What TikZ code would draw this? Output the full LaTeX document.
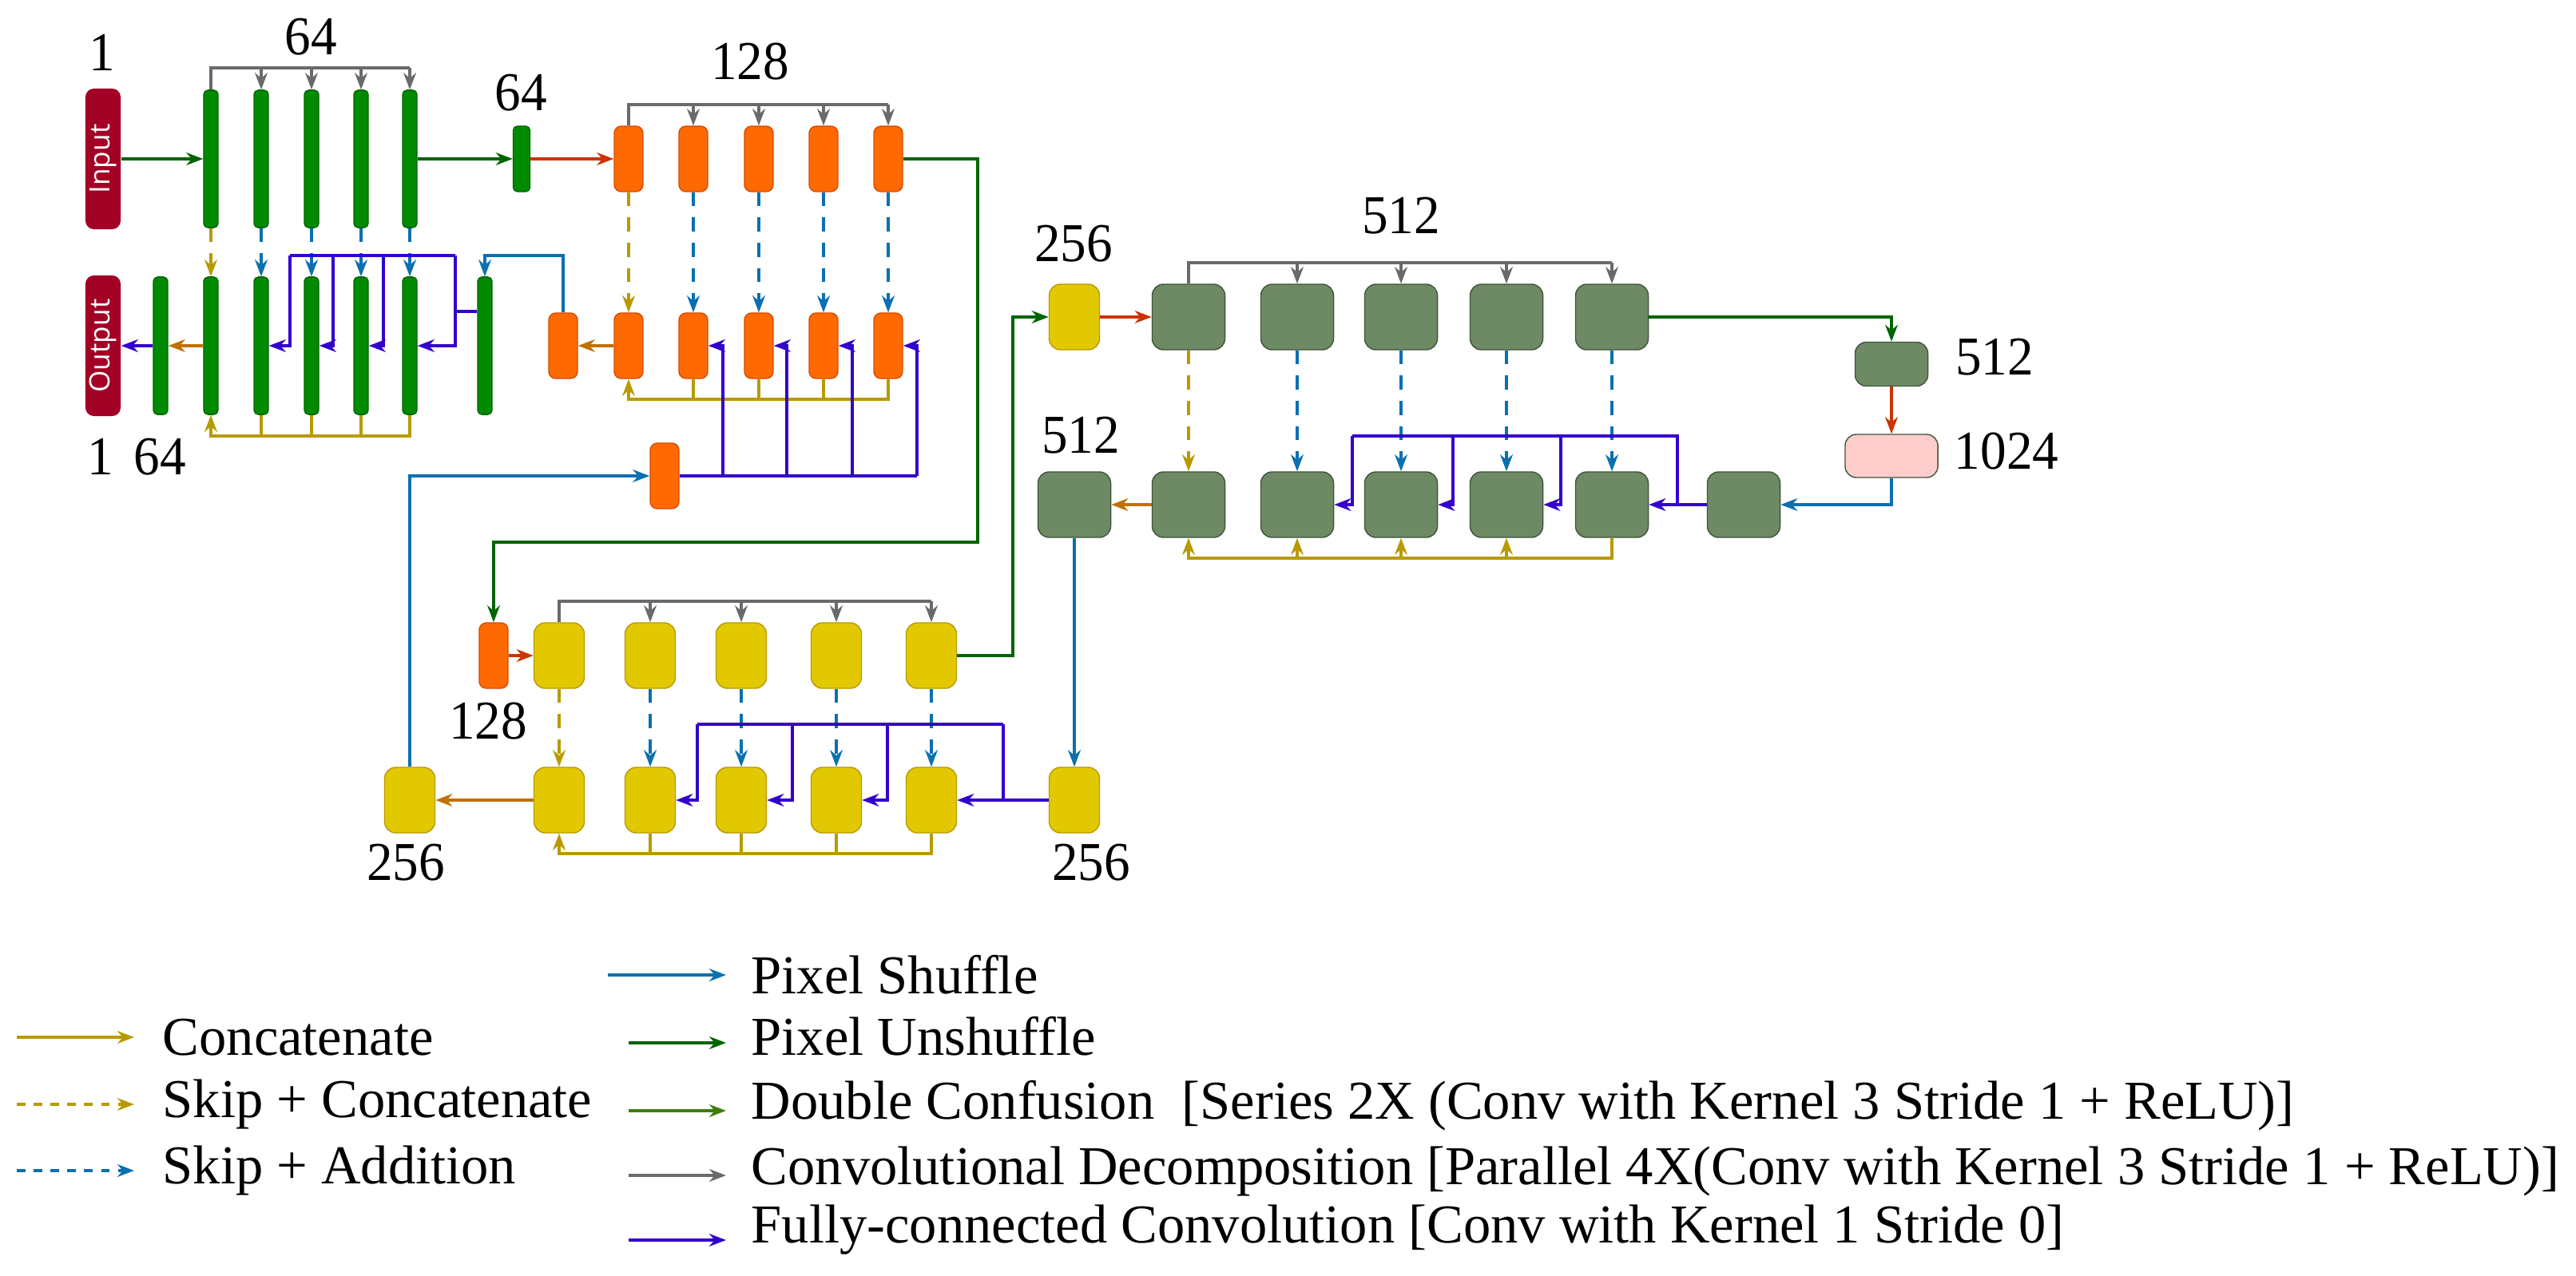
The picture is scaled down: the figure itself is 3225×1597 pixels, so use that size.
\documentclass[tikz,border=0pt]{standalone}
\usepackage{fontspec}
\setmainfont{Liberation Serif}
\newfontfamily\labfont{Liberation Serif}[FakeStretch=0.95]
\newfontfamily\iosans{Open Sans}
\usetikzlibrary{arrows.meta}
\definecolor{barG}{HTML}{008A00}
\definecolor{dkG}{HTML}{006400}
\definecolor{dcG}{HTML}{3C7F0A}
\definecolor{orF}{HTML}{FF6A00}
\definecolor{orD}{HTML}{D84A00}
\definecolor{redA}{HTML}{CC3300}
\definecolor{yeF}{HTML}{E2C800}
\definecolor{yeD}{HTML}{B89A00}
\definecolor{ggF}{HTML}{6E8A64}
\definecolor{ggD}{HTML}{3F553A}
\definecolor{pkF}{HTML}{FFCCCC}
\definecolor{ioF}{HTML}{A30026}
\definecolor{catC}{HTML}{B89A00}
\definecolor{catO}{HTML}{C07000}
\definecolor{psB}{HTML}{0A70B0}
\definecolor{fcP}{HTML}{3300CC}
\definecolor{cvG}{HTML}{6A6A6A}
\begin{document}
\begin{tikzpicture}[x=0.01cm,y=-0.01cm,
  tip/.style={-{Stealth[length=6pt,width=4.5pt]}},
  ln/.style={line width=0.9pt},
  conv/.style={ln,cvG},
  skipc/.style={ln,catC,dash pattern=on 5pt off 4pt},
  skipa/.style={ln,psB,dash pattern=on 5pt off 4pt},
  cat/.style={ln,catC},
  cato/.style={ln,catO},
  fc/.style={line width=1.1pt,fcP},
  ps/.style={ln,psB},
  pu/.style={ln,dkG},
  rd/.style={ln,redA},
  gbar/.style={draw=dkG,fill=barG,rounded corners=1.5pt,minimum width=0.18cm,minimum height=1.72cm,inner sep=0},
  sbar/.style={draw=dkG,fill=barG,rounded corners=1.5pt,minimum width=0.21cm,minimum height=0.82cm,inner sep=0},
  obox/.style={draw=orD,fill=orF,rounded corners=2.5pt,minimum width=0.36cm,minimum height=0.82cm,inner sep=0},
  ybox/.style={draw=yeD,fill=yeF,rounded corners=4pt,minimum width=0.63cm,minimum height=0.82cm,inner sep=0},
  ggbox/.style={draw=ggD,fill=ggF,rounded corners=4pt,minimum width=0.91cm,minimum height=0.82cm,inner sep=0},
  iobox/.style={fill=ioF,rounded corners=3pt,minimum width=0.44cm,minimum height=1.76cm,inner sep=0,text=white,font=\iosans\fontsize{10}{12}\selectfont},
  lab/.style={font=\labfont\fontsize{19.5}{22}\selectfont,inner sep=0},
  leg/.style={font=\fontsize{19.5}{22}\selectfont,inner sep=0,anchor=west}]
\useasboundingbox (0,0) rectangle (3225,1597);
% ---------- green level ----------
\node[iobox] (in) at (129,199) {\rotatebox{90}{Input}};
\node[iobox] (out) at (129,433) {\rotatebox{90}{Output}};
\foreach \i/\x in {1/264,2/327,3/390,4/452,5/513}{
  \node[gbar] (g\i) at (\x,199) {};
  \node[gbar] (h\i) at (\x,433) {};}
\node[gbar] (h0) at (201,433) {};
\node[gbar] (h6) at (607,433) {};
\node[sbar] (s64) at (653,199) {};
% orange level
\foreach \i/\x in {1/787,2/868,3/950,4/1031,5/1112}{
  \node[obox] (o\i) at (\x,199) {};
  \node[obox] (p\i) at (\x,433) {};}
\node[obox] (p0) at (705,433) {};
\node[obox] (q) at (832,596) {};
% yellow level
\node[obox] (o128) at (618,821) {};
\foreach \i/\x in {1/700,2/814,3/928,4/1047,5/1166}{
  \node[ybox] (y\i) at (\x,821) {};
  \node[ybox] (z\i) at (\x,1002) {};}
\node[ybox] (z0) at (513,1002) {};
\node[ybox] (z6) at (1345,1002) {};
% gray-green level
\node[ybox] (Y0) at (1345,397) {};
\foreach \i/\x in {1/1488,2/1624,3/1754,4/1886,5/2018}{
  \node[ggbox] (G\i) at (\x,397) {};
  \node[ggbox] (H\i) at (\x,632) {};}
\node[ggbox] (H0) at (1345,632) {};
\node[ggbox] (H6) at (2183,632) {};
\node[ggbox,minimum height=0.55cm] (R) at (2368,456) {};
\node[draw=ggD,fill=pkF,rounded corners=4pt,minimum width=1.16cm,minimum height=0.54cm,inner sep=0] (pk) at (2368,571) {};
% ---------- labels ----------
\node[lab] (l1) at (128,66) {1};
\node[lab] (l2) at (389,46) {64};
\node[lab] (l3) at (652,116) {64};
\node[lab] (l4) at (939,77) {128};
\node[lab] (l5) at (126,572) {1};
\node[lab] (l6) at (200,572) {64};
\node[lab] (l7) at (1344,305) {256};
\node[lab] (l8) at (1754,270) {512};
\node[lab] (l9) at (2497,447) {512};
\node[lab] (l10) at (2512,565) {1024};
\node[lab] (l11) at (1353,545) {512};
\node[lab] (l12) at (611,903) {128};
\node[lab] (l13) at (508,1080) {256};
\node[lab] (l14) at (1366,1080) {256};
% ---------- green connections ----------
\draw[pu,tip] (in.east) -- (g1.west);
\draw[pu,tip] (g5.east) -- (s64.west);
\draw[rd,tip] (s64.east) -- (o1.west);
\draw[conv] (g1.north) -- (g1.north|-0,85) -- (g5.north|-0,85);
\foreach \i in {2,...,5}{\draw[conv,tip] (g\i.north|-0,85) -- (g\i.north);}
\draw[skipc,tip] (g1.south) -- (h1.north);
\foreach \i in {2,...,5}{\draw[skipa,tip] (g\i.south) -- (h\i.north);}
\draw[cat,tip] (h5.south) -- (h5.south|-0,546) -- (h1.south|-0,546) -- (h1.south);
\foreach \i in {2,3,4}{\draw[cat] (h\i.south) -- (h\i.south|-0,546);}
\draw[fc] (h6.west|-0,390) -- (570,390);
\draw[fc] (570,320) -- (363,320);
\draw[fc,tip] (363,320) -- (363,433) -- (h2.east);
\draw[fc,tip] (417,320) -- (417,433) -- (h3.east);
\draw[fc,tip] (480,320) -- (480,433) -- (h4.east);
\draw[fc,tip] (570,320) -- (570,433) -- (h5.east);
\draw[ps,tip] (p0.north) -- (p0.north|-0,320) -| (h6.north);
\draw[cato,tip] (h1.west) -- (h0.east);
\draw[fc,tip] (h0.west) -- (out.east);
% ---------- orange connections ----------
\draw[conv] (o1.north) -- (o1.north|-0,131) -- (o5.north|-0,131);
\foreach \i in {2,...,5}{\draw[conv,tip] (o\i.north|-0,131) -- (o\i.north);}
\draw[skipc,tip] (o1.south) -- (p1.north);
\foreach \i in {2,...,5}{\draw[skipa,tip] (o\i.south) -- (p\i.north);}
\draw[cat,tip] (p5.south) -- (p5.south|-0,500) -- (p1.south|-0,500) -- (p1.south);
\foreach \i in {2,3,4}{\draw[cat] (p\i.south) -- (p\i.south|-0,500);}
\draw[cato,tip] (p1.west) -- (p0.east);
\draw[fc] (q.east) -- (1148,596);
\draw[fc,tip] (905,596) -- (905,433) -- (p2.east);
\draw[fc,tip] (985,596) -- (985,433) -- (p3.east);
\draw[fc,tip] (1067,596) -- (1067,433) -- (p4.east);
\draw[fc,tip] (1148,596) -- (1148,433) -- (p5.east);
\draw[ps,tip] (z0.north) -- (z0.north|-0,596) -- (q.west);
\draw[pu,tip] (o5.east) -- (1224,199) -- (1224,679) -- (618,679) -- (o128.north);
% ---------- yellow connections ----------
\draw[rd,tip] (o128.east) -- (y1.west);
\draw[conv] (y1.north) -- (y1.north|-0,753) -- (y5.north|-0,753);
\foreach \i in {2,...,5}{\draw[conv,tip] (y\i.north|-0,753) -- (y\i.north);}
\draw[skipc,tip] (y1.south) -- (z1.north);
\foreach \i in {2,...,5}{\draw[skipa,tip] (y\i.south) -- (z\i.north);}
\draw[cat,tip] (z5.south) -- (z5.south|-0,1069) -- (z1.south|-0,1069) -- (z1.south);
\foreach \i in {2,3,4}{\draw[cat] (z\i.south) -- (z\i.south|-0,1069);}
\draw[cato,tip] (z1.west) -- (z0.east);
\draw[fc] (z6.west) -- (1256,1002);
\draw[fc] (1256,907) -- (873,907);
\draw[fc,tip] (873,907) -- (873,1002) -- (z2.east);
\draw[fc,tip] (992,907) -- (992,1002) -- (z3.east);
\draw[fc,tip] (1111,907) -- (1111,1002) -- (z4.east);
\draw[fc,tip] (1256,907) -- (1256,1002) -- (z5.east);
\draw[pu,tip] (y5.east) -- (1268,821) -- (1268,397) -- (Y0.west);
% ---------- gray-green connections ----------
\draw[rd,tip] (Y0.east) -- (G1.west);
\draw[conv] (G1.north) -- (G1.north|-0,329) -- (G5.north|-0,329);
\foreach \i in {2,...,5}{\draw[conv,tip] (G\i.north|-0,329) -- (G\i.north);}
\draw[skipc,tip] (G1.south) -- (H1.north);
\foreach \i in {2,...,5}{\draw[skipa,tip] (G\i.south) -- (H\i.north);}
\draw[cat,tip] (H5.south) -- (H5.south|-0,699) -- (H1.south|-0,699) -- (H1.south);
\foreach \i in {2,3,4}{\draw[cat,tip] (H\i.south|-0,699) -- (H\i.south);}
\draw[pu,tip] (G5.east) -| (R.north);
\draw[rd,tip] (R.south) -- (pk.north);
\draw[ps,tip] (pk.south) |- (H6.east);
\draw[fc] (H6.west) -- (2100,632);
\draw[fc] (2100,632) -- (2100,546) -- (1693,546);
\draw[fc,tip] (1693,546) -- (1693,632) -- (H2.east);
\draw[fc,tip] (1819,546) -- (1819,632) -- (H3.east);
\draw[fc,tip] (1954,546) -- (1954,632) -- (H4.east);
\draw[fc,tip] (2100,632) -- (H5.east);
\draw[cato,tip] (H1.west) -- (H0.east);
\draw[ps,tip] (H0.south) -- (z6.north);
% ---------- legend ----------
\coordinate (a1) at (21,1299); \coordinate (b1) at (168,1299);
\coordinate (a2) at (21,1383); \coordinate (b2) at (168,1383);
\coordinate (a3) at (21,1466); \coordinate (b3) at (168,1466);
\draw[cat,tip] (a1) -- (b1);
\draw[skipc,dash pattern=on 3pt off 3pt,tip] (a2) -- (b2);
\draw[skipa,dash pattern=on 3pt off 3pt,tip] (a3) -- (b3);
\node[leg] (t1) at (203,1299) {Concatenate};
\node[leg] (t2) at (203,1383) {Skip + Concatenate};
\node[leg] (t3) at (203,1466) {Skip + Addition};
\coordinate (c1) at (761,1221); \coordinate (d1) at (909,1221);
\coordinate (c2) at (787,1306); \coordinate (d2) at (909,1306);
\coordinate (c3) at (787,1391); \coordinate (d3) at (909,1391);
\coordinate (c4) at (787,1472); \coordinate (d4) at (909,1472);
\coordinate (c5) at (787,1553); \coordinate (d5) at (909,1553);
\draw[ps,tip] (c1) -- (d1);
\draw[pu,tip] (c2) -- (d2);
\draw[ln,dcG,tip] (c3) -- (d3);
\draw[conv,tip] (c4) -- (d4);
\draw[fc,tip] (c5) -- (d5);
\node[leg] (u1) at (940,1221) {Pixel Shuffle};
\node[leg] (u2) at (940,1298) {Pixel Unshuffle};
\node[leg] (u3) at (940,1385) {Double Confusion\ \ [Series 2X (Conv with Kernel 3 Stride 1 + ReLU)]};
\node[leg] (u4) at (940,1467) {Convolutional Decomposition [Parallel 4X(Conv with Kernel 3 Stride 1 + ReLU)]};
\node[leg] (u5) at (940,1540) {Fully-connected Convolution [Conv with Kernel 1 Stride 0]};
\end{tikzpicture}
\end{document}
